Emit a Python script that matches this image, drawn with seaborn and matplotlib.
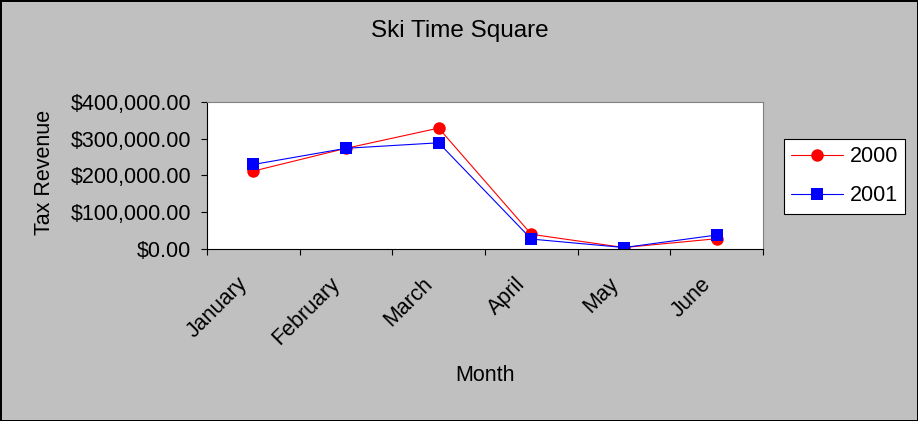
import matplotlib
matplotlib.use("Agg")
import matplotlib.pyplot as plt
import matplotlib.ticker as mticker
import matplotlib.transforms as mtransforms
import seaborn as sns
import pandas as pd

months = ["January", "February", "March", "April", "May", "June"]
rev_2000 = [212000, 274000, 329000, 40000, 4000, 28000]
rev_2001 = [230000, 274000, 289000, 27000, 4000, 38000]
years = ["2000", "2001"]
y_ticks = [0, 100000, 200000, 300000, 400000]

df = pd.DataFrame({
    "Month": months * 2,
    "pos": list(range(len(months))) * 2,
    "Tax Revenue": rev_2000 + rev_2001,
    "Year": [years[0]] * len(months) + [years[1]] * len(months),
})

sns.set_style("white")
plt.rcParams["font.family"] = ["Liberation Sans", "DejaVu Sans"]
for k in ["text.color", "axes.labelcolor", "xtick.color", "ytick.color"]:
    plt.rcParams[k] = "black"

W, H = 918, 421
fig = plt.figure(figsize=(W / 100, H / 100), dpi=100, facecolor="#c0c0c0")
fig.patch.set_edgecolor("black")
fig.patch.set_linewidth(1.0)
ax = fig.add_axes([207 / W, 1 - 249 / H, (763 - 207) / W, (249 - 102) / H])
ax.set_facecolor("white")

sns.lineplot(data=df, x="pos", y="Tax Revenue", hue="Year", style="Year",
             palette={"2000": "#ff0000", "2001": "#0000ff"},
             markers={"2000": "o", "2001": "s"}, dashes=False,
             linewidth=0.8, markersize=9, markeredgewidth=0, ax=ax)

FS = 15.5
ax.set_xlim(-0.5, len(months) - 0.5)
ax.set_ylim(0, 400000)
ax.set_yticks(y_ticks)
ax.yaxis.set_major_formatter(mticker.FuncFormatter(lambda v, p: f"${v:,.2f}"))
ax.set_xticks(range(len(months)))
ax.set_xticklabels(months, rotation=45, ha="right", va="center", rotation_mode="anchor")
ax.set_xticks([i - 0.5 for i in range(len(months) + 1)], minor=True)
ax.tick_params(axis="x", which="major", length=0, pad=23, labelsize=FS)
ax.tick_params(axis="x", which="minor", length=4, width=0.8, color="black", direction="out")
ax.tick_params(axis="y", length=4.3, width=0.8, color="black", direction="out", labelsize=FS, pad=7)
ax.xaxis.set_ticks_position("bottom")
ax.yaxis.set_ticks_position("left")

shift = mtransforms.ScaledTranslation(-9 / 100, 0, fig.dpi_scale_trans)
for lab in ax.get_xticklabels():
    lab.set_transform(lab.get_transform() + shift)

for side in ["top", "right"]:
    ax.spines[side].set_color("#808080")
    ax.spines[side].set_linewidth(0.8)
for side in ["left", "bottom"]:
    ax.spines[side].set_color("black")
    ax.spines[side].set_linewidth(0.8)

ax.set_xlabel("Month", fontsize=FS, va="center")
ax.xaxis.set_label_coords(0.5, (249 - 375) / 147)
ax.set_ylabel("Tax Revenue", fontsize=FS, va="center")
ax.yaxis.set_label_coords((44 - 207) / 556, (249 - 172) / 147)
fig.text(460 / W, 1 - 31 / H, "Ski Time Square", ha="center", va="center", fontsize=17.5)

leg = ax.legend(title=None, loc="upper left", bbox_to_anchor=(784 / W, 1 - 139 / H),
                bbox_transform=fig.transFigure, frameon=True, fancybox=False,
                fontsize=15.5, handlelength=2.4, handletextpad=0.3, borderpad=0.34,
                labelspacing=0.84, borderaxespad=0)
leg.get_frame().set_edgecolor("black")
leg.get_frame().set_linewidth(0.8)
leg.get_frame().set_facecolor("white")
leg.get_frame().set_alpha(1)
for line in leg.get_lines():
    line.set_linewidth(0.8)

fig.savefig("out.png", dpi=100, facecolor=fig.get_facecolor(), edgecolor=fig.get_edgecolor())
